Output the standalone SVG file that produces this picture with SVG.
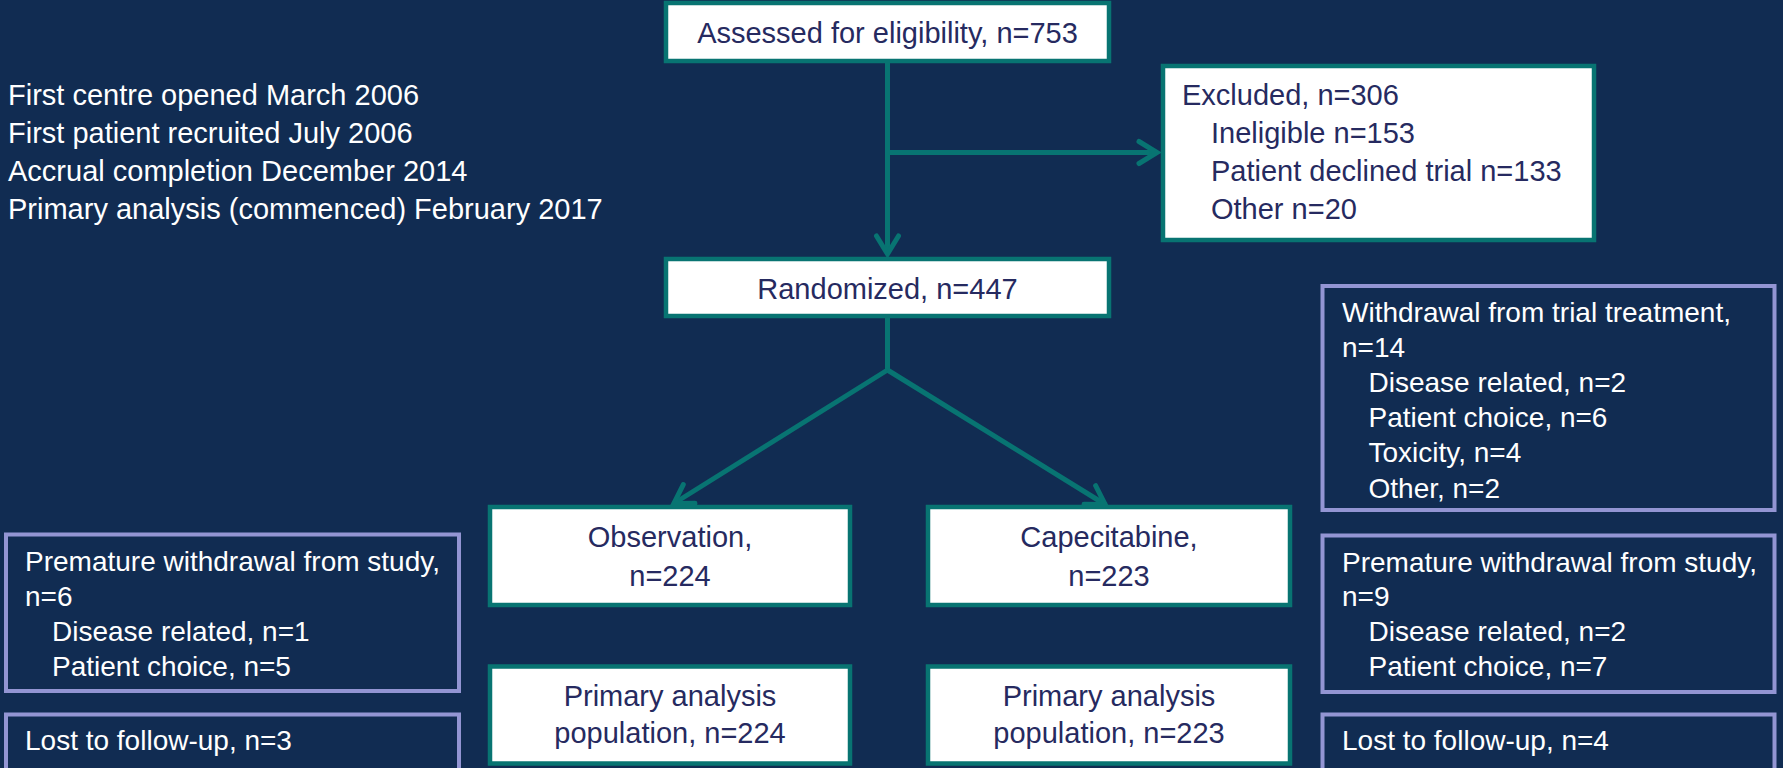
<svg xmlns="http://www.w3.org/2000/svg" width="1783" height="768" viewBox="0 0 1783 768">
  <style>
    .bg { fill: #112c52; }
    .tbox { fill: #ffffff; stroke: #087472; stroke-width: 4.5; }
    .lbox { fill: none; stroke: #9395d3; stroke-width: 4; }
    .conn { fill: none; stroke: #087472; stroke-width: 5; }
    text { font-family: "Liberation Sans", Arial, sans-serif; }
    .wt { fill: #262a60; font-size: 29px; }
    .wtc { fill: #262a60; font-size: 29px; text-anchor: middle; }
    .lt { fill: #ffffff; font-size: 29px; }
    .lb { fill: #ffffff; font-size: 28px; }
  </style>
  <defs>
    <marker id="arr" markerUnits="userSpaceOnUse" markerWidth="30" markerHeight="30" viewBox="0 0 30 30" refX="24" refY="15" orient="auto" overflow="visible">
      <path d="M5,4 L23,15 L5,26" fill="none" stroke="#087472" stroke-width="5" stroke-linecap="round" stroke-linejoin="miter"/>
    </marker>
  </defs>
  <rect class="bg" x="0" y="0" width="1783" height="768"/>

  <g id="timeline">
    <text class="lt" x="8" y="105">First centre opened March 2006</text>
    <text class="lt" x="8" y="143">First patient recruited July 2006</text>
    <text class="lt" x="8" y="181">Accrual completion December 2014</text>
    <text class="lt" x="8" y="218.5">Primary analysis (commenced) February 2017</text>
  </g>

  <g id="connectors">
    <path class="conn" d="M887.5,63 V255" marker-end="url(#arr)"/>
    <path class="conn" d="M887.5,152.5 H1158" marker-end="url(#arr)"/>
    <path class="conn" d="M887.5,318 V370"/>
    <path class="conn" d="M887.5,370 L673,504" marker-end="url(#arr)"/>
    <path class="conn" d="M887.5,370 L1106,505" marker-end="url(#arr)"/>
  </g>

  <g id="assessed">
    <rect class="tbox" x="666" y="3" width="443" height="58"/>
    <text class="wtc" x="887.5" y="42.5">Assessed for eligibility, n=753</text>
  </g>

  <g id="excluded">
    <rect class="tbox" x="1163" y="66" width="431" height="174"/>
    <text class="wt" x="1182" y="105">Excluded, n=306</text>
    <text class="wt" x="1211" y="143">Ineligible n=153</text>
    <text class="wt" x="1211" y="181">Patient declined trial n=133</text>
    <text class="wt" x="1211" y="218.5">Other n=20</text>
  </g>

  <g id="randomized">
    <rect class="tbox" x="666" y="259" width="443" height="57"/>
    <text class="wtc" x="887.5" y="299">Randomized, n=447</text>
  </g>

  <g id="observation">
    <rect class="tbox" x="490" y="507" width="360" height="98"/>
    <text class="wtc" x="670" y="547">Observation,</text>
    <text class="wtc" x="670" y="585.5">n=224</text>
  </g>

  <g id="capecitabine">
    <rect class="tbox" x="928" y="507" width="362" height="98"/>
    <text class="wtc" x="1109" y="547">Capecitabine,</text>
    <text class="wtc" x="1109" y="585.5">n=223</text>
  </g>

  <g id="primary-observation">
    <rect class="tbox" x="490" y="666.5" width="360" height="97"/>
    <text class="wtc" x="670" y="706">Primary analysis</text>
    <text class="wtc" x="670" y="742.5">population, n=224</text>
  </g>

  <g id="primary-capecitabine">
    <rect class="tbox" x="928" y="666.5" width="362" height="97"/>
    <text class="wtc" x="1109" y="706">Primary analysis</text>
    <text class="wtc" x="1109" y="742.5">population, n=223</text>
  </g>

  <g id="obs-withdrawal">
    <rect class="lbox" x="6" y="534.5" width="453" height="156.5"/>
    <text class="lb" x="25" y="571">Premature withdrawal from study,</text>
    <text class="lb" x="25" y="606">n=6</text>
    <text class="lb" x="52" y="640.5">Disease related, n=1</text>
    <text class="lb" x="52" y="676">Patient choice, n=5</text>
  </g>

  <g id="obs-lost">
    <rect class="lbox" x="6" y="714.5" width="453" height="80"/>
    <text class="lb" x="25" y="749.5">Lost to follow-up, n=3</text>
  </g>

  <g id="cap-treatment-withdrawal">
    <rect class="lbox" x="1322.5" y="286" width="452" height="224"/>
    <text class="lb" x="1342" y="321.5">Withdrawal from trial treatment,</text>
    <text class="lb" x="1342" y="356.5">n=14</text>
    <text class="lb" x="1368.5" y="391.5">Disease related, n=2</text>
    <text class="lb" x="1368.5" y="426.5">Patient choice, n=6</text>
    <text class="lb" x="1368.5" y="462">Toxicity, n=4</text>
    <text class="lb" x="1368.5" y="497.5">Other, n=2</text>
  </g>

  <g id="cap-withdrawal">
    <rect class="lbox" x="1322.5" y="535.5" width="452" height="156.5"/>
    <text class="lb" x="1342" y="571.5">Premature withdrawal from study,</text>
    <text class="lb" x="1342" y="605.5">n=9</text>
    <text class="lb" x="1368.5" y="640.5">Disease related, n=2</text>
    <text class="lb" x="1368.5" y="676">Patient choice, n=7</text>
  </g>

  <g id="cap-lost">
    <rect class="lbox" x="1322.5" y="714.5" width="452" height="80"/>
    <text class="lb" x="1342" y="750">Lost to follow-up, n=4</text>
  </g>
</svg>
